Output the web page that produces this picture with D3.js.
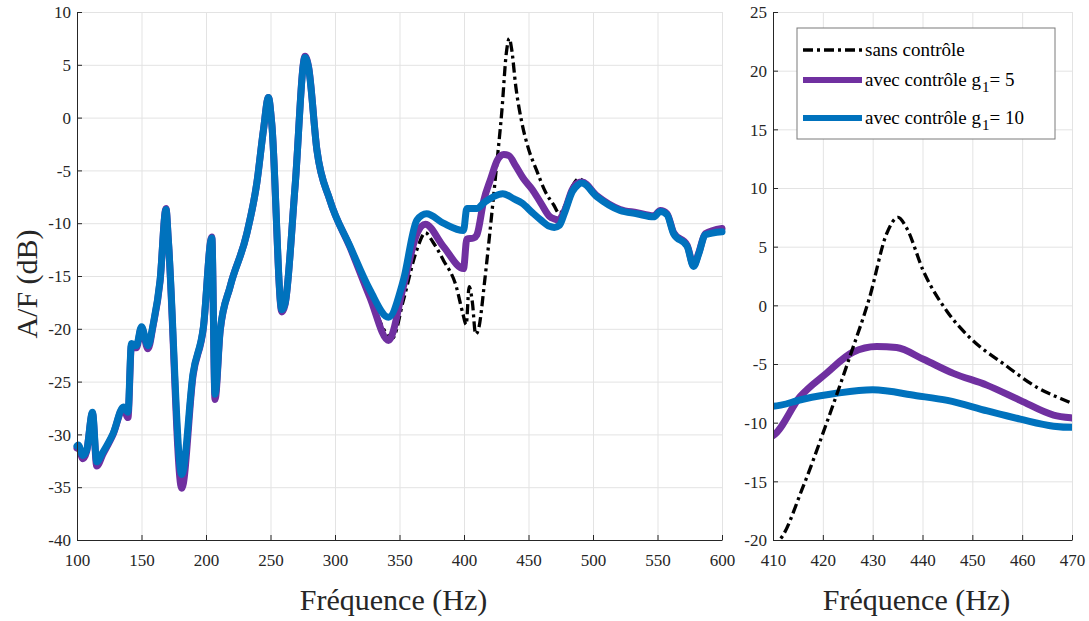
<!DOCTYPE html>
<html>
<head>
<meta charset="utf-8">
<script src="https://cdn.jsdelivr.net/npm/d3@7"></script>
<style>
  html, body { margin: 0; padding: 0; background: #fff; }
  svg { display: block; }
  svg text { font-family: "Liberation Serif", serif; }
</style>
</head>
<body>
<svg id="chart" width="1089" height="621"></svg>
<script>
// ---------- DATA ----------
const seriesNames = ["sans contrôle", "avec contrôle g", "avec contrôle g"];
const seriesGains = ["", "5", "10"];

// sans contrôle (no control)
const freqNoCtrl = [100, 101, 104.5, 107.5, 112, 115.3, 120, 128, 136, 139.5, 142.2, 146, 150, 155, 159, 164.4, 169, 170.8, 181.2, 190, 198, 204.5, 207, 211, 218.7, 231.6, 239.4, 244.5, 248.4, 251, 258.8, 261.3, 269, 276.8, 279.4, 286, 296, 311.7, 327, 344.5, 353, 363.5, 370, 376, 384, 394, 399, 401.7, 404, 406.5, 409, 411.3, 416, 420.7, 425.4, 429.4, 432.8, 435.1, 436.8, 440.2, 444.9, 449.6, 456.3, 463, 469.7, 474, 478, 484, 488.8, 491.4, 503, 521, 534, 547, 552.2, 557.4, 562.5, 573, 578, 582, 587, 600];
const dbNoCtrl   = [-31.6, -31.2, -32.3, -31.6, -28.0, -33.0, -31.9, -30.0, -27.5, -28.4, -21.6, -21.8, -19.9, -21.9, -19.7, -15.5, -8.6, -11.6, -35.1, -24.4, -19.9, -11.3, -26.7, -20.2, -16.0, -11.0, -6.2, -1.2, 1.9, -0.6, -18.4, -17.7, -6.6, 5.8, 4.9, -3.1, -7.8, -12.3, -17.0, -20.9, -17.3, -12.5, -10.9, -11.8, -13.5, -16.0, -18.5, -19.6, -16.0, -17.5, -20.5, -20.0, -15.5, -10.1, -4.4, 0.7, 6.1, 7.5, 6.6, 2.9, -0.5, -2.8, -5.0, -7.0, -8.3, -9.1, -8.4, -6.5, -5.8, -5.9, -7.3, -8.6, -9.0, -9.3, -8.8, -9.1, -10.9, -12.1, -14.0, -12.8, -11.0, -10.5];

// avec contrôle g1 = 5
const freqG5 = [100, 101, 104.5, 107.5, 112, 115.3, 120, 128, 136, 139.5, 142.2, 146, 150, 155, 159, 164.4, 169, 170.8, 181.2, 190, 198, 204.5, 207, 211, 218.7, 231.6, 239.4, 244.5, 248.4, 251, 258.8, 261.3, 269, 276.8, 279.4, 286, 296, 311.7, 327, 341.5, 353, 363.5, 370, 384, 399.6, 402.2, 407.4, 410, 415.4, 420.7, 426, 430.8, 434.8, 440.2, 446.2, 452.9, 459.6, 466.3, 470, 473, 478, 484, 488, 491.4, 503, 521, 534, 547, 552.2, 557.4, 562.5, 573, 578, 582, 587, 600];
const dbG5   = [-31.3, -31.1, -32.3, -31.6, -28.0, -33.0, -31.9, -30.0, -27.5, -28.4, -21.6, -21.8, -19.9, -21.9, -19.7, -15.5, -8.6, -11.6, -35.1, -24.4, -19.9, -11.3, -26.7, -20.2, -16.0, -11.0, -6.2, -1.2, 1.9, -0.6, -18.4, -17.7, -6.6, 5.8, 4.9, -3.1, -7.8, -12.3, -17.0, -21.1, -16.0, -11.0, -10.1, -12.2, -14.3, -11.5, -11.4, -11.1, -7.8, -5.8, -4.0, -3.5, -3.6, -4.6, -5.8, -6.8, -8.1, -9.35, -9.6, -9.7, -8.8, -6.8, -6.2, -6.1, -7.4, -8.7, -9.0, -9.3, -8.8, -9.1, -10.9, -12.1, -14.0, -12.8, -11.0, -10.5];

// avec contrôle g1 = 10
const freqG10 = [100, 101, 104.5, 107.5, 112, 115.3, 120, 128, 136, 139.5, 142.2, 146, 150, 155, 159, 164.4, 169, 170.8, 181.2, 190, 198, 204.5, 207, 211, 218.7, 231.6, 239.4, 244.5, 248.4, 251, 258.8, 261.3, 269, 276.8, 279.4, 286, 296, 311.7, 327, 341.5, 353, 363.5, 371, 384, 399.6, 402.2, 410, 416, 422.7, 430, 438.8, 445, 453, 459.6, 466.3, 470, 474, 478, 484, 488, 491.4, 503, 521, 534, 547, 552.2, 557.4, 562.5, 573, 578, 582, 587, 600];
const dbG10   = [-31.1, -31.0, -32.0, -31.5, -27.9, -32.6, -31.7, -29.9, -27.4, -27.9, -21.4, -21.6, -19.8, -21.6, -19.6, -15.4, -8.7, -11.6, -33.8, -24.2, -19.8, -11.4, -26.2, -20.1, -16.0, -11.0, -6.2, -1.2, 1.9, -0.6, -18.2, -17.6, -6.6, 5.7, 4.8, -3.1, -7.8, -12.2, -16.3, -18.9, -15.4, -9.7, -9.1, -10.0, -10.7, -8.6, -8.6, -8.0, -7.5, -7.2, -7.7, -8.1, -9.0, -9.7, -10.3, -10.4, -10.2, -9.0, -7.0, -6.4, -6.2, -7.5, -8.8, -9.1, -9.4, -8.9, -9.2, -11.0, -12.2, -14.1, -12.9, -11.1, -10.8];

// ticks
const leftXTicks  = [100, 150, 200, 250, 300, 350, 400, 450, 500, 550, 600];
const leftYTicks  = [-40, -35, -30, -25, -20, -15, -10, -5, 0, 5, 10];
const rightXTicks = [410, 420, 430, 440, 450, 460, 470];
const rightYTicks = [-20, -15, -10, -5, 0, 5, 10, 15, 20, 25];

const xLabel = "Fréquence (Hz)";
const yLabel = "A/F (dB)";

// ---------- STYLE ----------
const FONT = "Liberation Serif, serif";
const colors = ["#000000", "#7030A0", "#0072BD"];
const widths = [3.3, 7, 7];
const dashes = ["10,4,3,4", null, null];
const axisColor = "#262626";
const gridColor = "#e3e3e3";

const svg = d3.select("#chart");

const series = [
  freqNoCtrl.map((f, i) => ({ f, v: dbNoCtrl[i] })),
  freqG5.map((f, i) => ({ f, v: dbG5[i] })),
  freqG10.map((f, i) => ({ f, v: dbG10[i] }))
];

function panel(opts) {
  const { x0, x1, y0, y1, xDom, yDom, xTicks, yTicks, order, clipId } = opts;
  const x = d3.scaleLinear().domain(xDom).range([x0, x1]);
  const y = d3.scaleLinear().domain(yDom).range([y1, y0]);
  const g = svg.append("g");

  // grid
  g.append("g").attr("transform", `translate(0,${y1})`)
    .call(d3.axisBottom(x).tickValues(xTicks).tickSize(-(y1 - y0)).tickFormat(""))
    .call(s => s.select(".domain").remove())
    .call(s => s.selectAll("line").attr("stroke", gridColor).attr("stroke-width", 1));
  g.append("g").attr("transform", `translate(${x0},0)`)
    .call(d3.axisLeft(y).tickValues(yTicks).tickSize(-(x1 - x0)).tickFormat(""))
    .call(s => s.select(".domain").remove())
    .call(s => s.selectAll("line").attr("stroke", gridColor).attr("stroke-width", 1));

  // clip
  const defs = svg.append("defs");
  defs.append("clipPath").attr("id", clipId).append("rect")
    .attr("x", opts.clipPad ? x0 - 6 : x0).attr("y", y0 - 6)
    .attr("width", (x1 - x0) + (opts.clipPad ? 12 : 0)).attr("height", (y1 - y0) + 6);

  const line = d3.line().x(d => x(d.f)).y(d => y(d.v)).curve(d3.curveMonotoneX);
  const lines = g.append("g").attr("clip-path", `url(#${clipId})`);
  order.forEach(k => {
    const p = lines.append("path").datum(series[k])
      .attr("d", line)
      .attr("fill", "none")
      .attr("stroke", colors[k])
      .attr("stroke-width", widths[k])
      .attr("stroke-linejoin", "round")
      .attr("stroke-linecap", k === 0 ? "butt" : "round");
    if (dashes[k]) p.attr("stroke-dasharray", dashes[k]);
  });

  // axes
  const ax = g.append("g").attr("transform", `translate(0,${y1})`)
    .call(d3.axisBottom(x).tickValues(xTicks).tickSizeInner(-5).tickSizeOuter(0).tickPadding(14).tickFormat(d => String(d)));
  const ay = g.append("g").attr("transform", `translate(${x0},0)`)
    .call(d3.axisLeft(y).tickValues(yTicks).tickSizeInner(-5).tickSizeOuter(0).tickPadding(6).tickFormat(d => String(d)));
  [ax, ay].forEach(a => {
    a.attr("font-family", FONT).attr("font-size", 17);
    a.selectAll("text").attr("fill", axisColor).style("font-family", FONT);
    a.selectAll("line").attr("stroke", axisColor);
    a.select(".domain").attr("stroke", axisColor).attr("stroke-width", 1);
  });
  ay.selectAll("text").attr("dy", "0.34em");
  ax.selectAll("text").attr("dy", "0.72em");

  // x label
  g.append("text")
    .attr("x", (x0 + x1) / 2 - 6).attr("y", 610)
    .attr("text-anchor", "middle")
    .style("font-family", FONT).attr("font-size", 30)
    .attr("fill", axisColor)
    .text(xLabel);
  return { x, y };
}

// left panel
panel({ x0: 77, x1: 722, y0: 12, y1: 540, xDom: [100, 600], yDom: [-40, 10],
        xTicks: leftXTicks, yTicks: leftYTicks, order: [0, 1, 2], clipId: "clipL", clipPad: true });

// right panel
panel({ x0: 773, x1: 1072, y0: 12, y1: 540, xDom: [410, 470], yDom: [-20, 25],
        xTicks: rightXTicks, yTicks: rightYTicks, order: [1, 2, 0], clipId: "clipR", clipPad: false });

// y label
svg.append("text")
  .attr("transform", "translate(37,284) rotate(-90)")
  .attr("text-anchor", "middle")
  .style("font-family", FONT).attr("font-size", 30)
  .attr("fill", axisColor)
  .text(yLabel);

// legend
const leg = svg.append("g");
leg.append("rect").attr("x", 797).attr("y", 28).attr("width", 258).attr("height", 111)
  .attr("fill", "#fff").attr("stroke", "#7a7a7a").attr("stroke-width", 1);
const rowY = [50, 80, 118];
[0, 1, 2].forEach(k => {
  const l = leg.append("line").attr("x1", 803).attr("x2", 862)
    .attr("y1", rowY[k]).attr("y2", rowY[k])
    .attr("stroke", colors[k]).attr("stroke-width", k === 0 ? 3.3 : 6);
  if (dashes[k]) l.attr("stroke-dasharray", dashes[k]);
  const t = leg.append("text").attr("x", 865).attr("y", rowY[k] + 6)
    .style("font-family", FONT).attr("font-size", 19).attr("fill", "#000");
  t.append("tspan").text(seriesNames[k]);
  if (seriesGains[k]) {
    t.append("tspan").attr("dx", 1).attr("dy", 6).attr("font-size", 15).text("1");
    t.append("tspan").attr("dy", -6).text("= " + seriesGains[k]);
  }
});
</script>
</body>
</html>
